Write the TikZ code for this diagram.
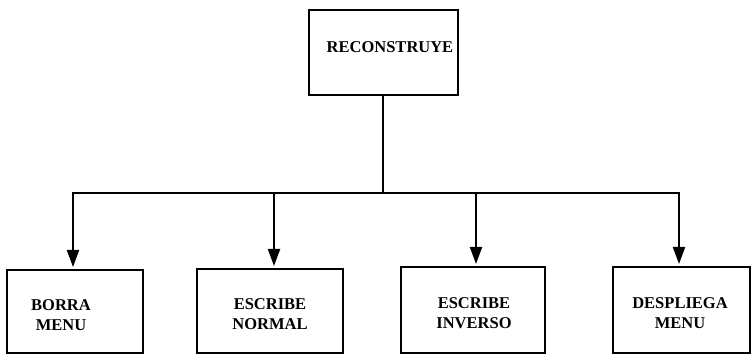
\documentclass[tikz,border=0pt]{standalone}
\usepackage{fontspec}
\setmainfont{Liberation Serif}
\usetikzlibrary{arrows.meta}
\begin{document}
\begin{tikzpicture}[x=1pt,y=-1pt,
  box/.style={draw,line width=2pt,rectangle,inner sep=0pt},
  lbl/.style={font=\bfseries\fontsize{16.5}{20}\selectfont,align=center,inner sep=0pt},
  wire/.style={line width=2pt},
  arr/.style={wire,-{Triangle[length=17pt,width=12pt]},shorten >=2pt}]
\useasboundingbox (0,0) rectangle (752,355);
\node[box,minimum width=149pt,minimum height=85pt] (top) at (383.5,52.5) {};
\node[lbl] (ttop) at (390,47) {RECONSTRUYE};
\node[box,minimum width=136pt,minimum height=83pt] (b1) at (75,311.5) {};
\node[box,minimum width=146pt,minimum height=84pt] (b2) at (270,311) {};
\node[box,minimum width=144pt,minimum height=86pt] (b3) at (473,310) {};
\node[box,minimum width=137pt,minimum height=86pt] (b4) at (681.5,310) {};
\node[lbl] (t1) at (61,315) {BORRA\\MENU};
\node[lbl] (t2) at (270,314) {ESCRIBE\\NORMAL};
\node[lbl] (t3) at (474,313) {ESCRIBE\\INVERSO};
\node[lbl] (t4) at (680,313) {DESPLIEGA\\MENU};
\coordinate (j) at (383,193);
\coordinate (h1) at (73,193);
\coordinate (h2) at (274,193);
\coordinate (h3) at (476,193);
\coordinate (h4) at (679,193);
\draw[wire] (j |- top.south) -- (j);
\draw[wire] ([xshift=-1pt]h1) -- ([xshift=1pt]h4);
\draw[arr] (h1) -- (h1 |- b1.north);
\draw[arr] (h2) -- (h2 |- b2.north);
\draw[arr] (h3) -- (h3 |- b3.north);
\draw[arr] (h4) -- (h4 |- b4.north);
\end{tikzpicture}
\end{document}
